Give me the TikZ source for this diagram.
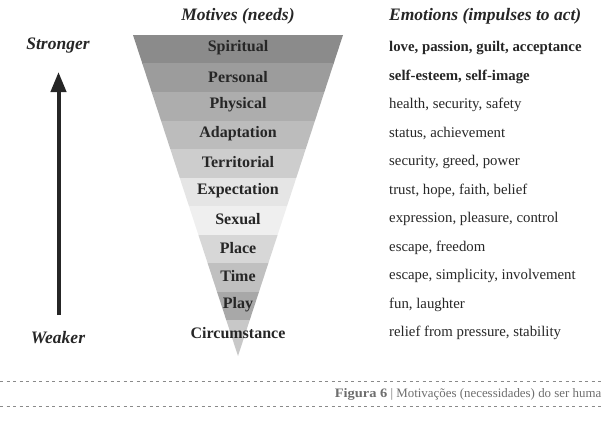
\documentclass[tikz,border=0pt]{standalone}
\usepackage{fontspec}
\setmainfont{Liberation Serif}
\usetikzlibrary{arrows.meta}
\definecolor{txt}{HTML}{262626}
\definecolor{capgrey}{HTML}{6E6E6E}
\definecolor{dashgrey}{HTML}{8A8A8A}
\tikzset{
  motive/.style={font=\fontsize{16}{16}\selectfont\bfseries, text=txt, inner sep=0pt, anchor=center},
  emo/.style={font=\fontsize{14.8}{15}\selectfont, text=txt, inner sep=0pt, anchor=west},
  emob/.style={emo, font=\fontsize{14.8}{15}\selectfont\bfseries},
  header/.style={font=\fontsize{17.5}{18}\selectfont\bfseries\itshape, text=txt, inner sep=0pt},
  sepline/.style={dashgrey, line width=0.8pt, dash pattern=on 3pt off 3.5pt},
}
\begin{document}
\begin{tikzpicture}[x=1pt,y=-1pt]
\useasboundingbox (0,0) rectangle (602,436);
% funnel bands
\begin{scope}
\clip (133,35) -- (343,35) -- (238,356) -- cycle;
\foreach \k/\c in {0/8B8B8B,1/9C9C9C,2/ADADAD,3/BCBCBC,4/CDCDCD,5/E5E5E5,6/EFEFEF,7/D7D7D7,8/C0C0C0,9/A8A8A8}{
  \definecolor{bandc}{HTML}{\c}
  \fill[bandc] (120,{35+28.5*\k}) rectangle (360,{35+28.5*(\k+1)+0.3});
}
\definecolor{bandl}{HTML}{C8C8C8}
\fill[bandl] (120,320) rectangle (360,360);
\end{scope}
% motive labels
\node[motive] (m1) at (238,48) {Spiritual};
\node[motive] (m2) at (238,77) {Personal};
\node[motive] (m3) at (238,105) {Physical};
\node[motive] (m4) at (238,134) {Adaptation};
\node[motive] (m5) at (238,162) {Territorial};
\node[motive] (m6) at (238,191) {Expectation};
\node[motive] (m7) at (238,219) {Sexual};
\node[motive] (m8) at (238,248) {Place};
\node[motive] (m9) at (238,276) {Time};
\node[motive] (m10) at (238,305) {Play};
\node[motive] (m11) at (238,333) {Circumstance};
% emotions
\node[emob] (e1) at (389,48) {love, passion, guilt, acceptance};
\node[emob] (e2) at (389,77) {self-esteem, self-image};
\node[emo] (e3) at (389,105) {health, security, safety};
\node[emo] (e4) at (389,134) {status, achievement};
\node[emo] (e5) at (389,162) {security, greed, power};
\node[emo] (e6) at (389,191) {trust, hope, faith, belief};
\node[emo] (e7) at (389,219) {expression, pleasure, control};
\node[emo] (e8) at (389,248) {escape, freedom};
\node[emo] (e9) at (389,276) {escape, simplicity, involvement};
\node[emo] (e10) at (389,305) {fun, laughter};
\node[emo] (e11) at (389,333) {relief from pressure, stability};
% headers
\node[header] (hm) at (238,16) {Motives (needs)};
\node[header, anchor=west] (he) at (389,16) {Emotions (impulses to act)};
\node[header] (hs) at (58,46) {Stronger};
\node[header] (hw) at (58,338) {Weaker};
% arrow
\coordinate (abot) at (58.5,315);
\coordinate (atop) at (58.5,72);
\draw[txt, line width=4pt, -{Triangle[width=15pt,length=20pt]}] (abot) -- (atop);
% separator lines and caption
\coordinate (l1a) at (0,381.5); \coordinate (l1b) at (602,381.5);
\coordinate (l2a) at (0,406.5); \coordinate (l2b) at (602,406.5);
\draw[sepline] (l1a) -- (l1b);
\draw[sepline] (l2a) -- (l2b);
\node[anchor=east, inner sep=0pt, text=capgrey, font=\fontsize{12.9}{14}\selectfont] (cap) at (601.5,394)
  {\scalebox{1.12}[1]{\textbf{Figura 6}} | Motivações (necessidades) do ser huma};
\end{tikzpicture}
\end{document}
